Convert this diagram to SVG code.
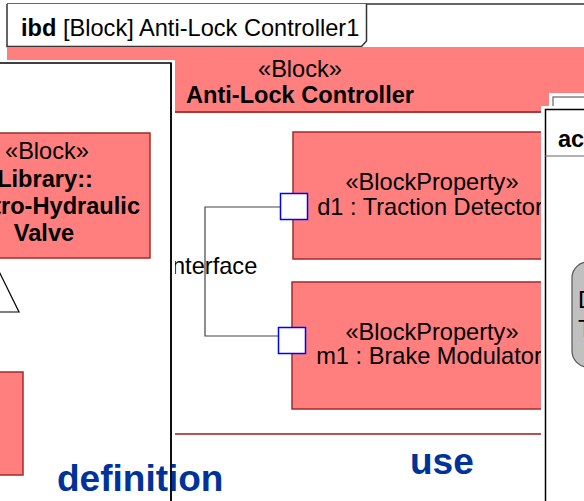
<svg xmlns="http://www.w3.org/2000/svg" width="584" height="501" viewBox="0 0 584 501">
<defs>
<style>
text{font-family:"Liberation Sans",Arial,sans-serif;fill:#000}
.t{font-size:23.6px}
.b{font-weight:bold}
.c{text-anchor:middle}
.pink{fill:#FF7F7F;stroke:#A52A2A;stroke-width:1.5}
.port{fill:#fff;stroke:#0000FF;stroke-width:1.5}
.big{font-size:37px;font-weight:bold;fill:#003399}
.conn{fill:none;stroke:#444;stroke-width:1.2}
</style>
</defs>
<rect width="584" height="501" fill="#fff"/>
<g id="frame">
<line x1="7" y1="4" x2="590" y2="4" stroke="#333" stroke-width="1.5"/>
<path d="M7,4 V46.5 H361.5 L366.5,41 V4" fill="#fff" stroke="#333" stroke-width="1.5"/>
<text x="21" y="36" class="t"><tspan class="b">ibd</tspan> [Block] Anti-Lock Controller1</text>
</g>
<g id="anti-lock-controller">
<rect x="7" y="47" width="590" height="65" fill="#FF7F7F"/>
<line x1="7" y1="112" x2="590" y2="112" stroke="#A83A3A" stroke-width="2"/>
<text x="300" y="77" class="t c">«Block»</text>
<text x="300" y="103" class="t b c">Anti-Lock Controller</text>
<line x1="174" y1="434" x2="590" y2="434" stroke="#A01818" stroke-width="1.5"/>
<text x="410" y="474" class="big">use</text>
</g>
<g id="d1">
<rect x="293" y="132" width="280" height="127" class="pink"/>
<text x="432" y="190" class="t c">«BlockProperty»</text>
<text x="430" y="215" class="t c">d1 : Traction Detector</text>
</g>
<g id="m1">
<rect x="292" y="282" width="280" height="127" class="pink"/>
<text x="432" y="340" class="t c">«BlockProperty»</text>
<text x="429" y="364" class="t c">m1 : Brake Modulator</text>
</g>
<g id="connectors">
<path d="M281,207 H205 V336 H278" class="conn"/>
<text x="172" y="274" class="t">nterface</text>
</g>
<g id="ports">
<rect x="280.5" y="193.5" width="27" height="26" class="port"/>
<rect x="278.5" y="327.5" width="27" height="26" class="port"/>
</g>
<g id="definition-panel">
<rect x="-5" y="60" width="180" height="450" fill="#fff"/>
<rect x="-5" y="63" width="176" height="450" fill="#fff" stroke="#000" stroke-width="1.5"/>
<g id="valve">
<rect x="-10" y="133" width="160" height="125" class="pink"/>
<text x="47" y="159" class="t c">«Block»</text>
<text x="45" y="187" class="t b c">Library::</text>
<text x="140" y="214" class="t b" text-anchor="end">tro-Hydraulic</text>
<text x="44" y="241" class="t b c">Valve</text>
</g>
<path d="M-7,259 L19,312 H-33 Z" fill="#fff" stroke="#000" stroke-width="1.2"/>
<rect x="-10" y="372" width="33" height="103" class="pink"/>
<text x="57" y="491" class="big">definition</text>
<line x1="171" y1="63" x2="171" y2="510" stroke="#000" stroke-width="1.5"/>
</g>
<g id="act-panel">
<rect x="549" y="93" width="50" height="30" fill="#fff"/>
<rect x="553" y="97" width="50" height="30" fill="#fff" stroke="#666" stroke-width="1.2"/>
<rect x="541" y="106" width="60" height="410" fill="#fff"/>
<rect x="545.5" y="109.5" width="60" height="410" fill="#fff" stroke="#000" stroke-width="1.5"/>
<text x="558" y="147" class="t b">ac</text>
<line x1="545" y1="156" x2="590" y2="156" stroke="#666" stroke-width="1.2"/>
<rect x="572" y="262" width="60" height="105" rx="16" fill="#C0C0C0" stroke="#555" stroke-width="1.2"/>
<text x="578" y="308" class="t">D</text>
<text x="578" y="337" class="t">T</text>
</g>
</svg>
